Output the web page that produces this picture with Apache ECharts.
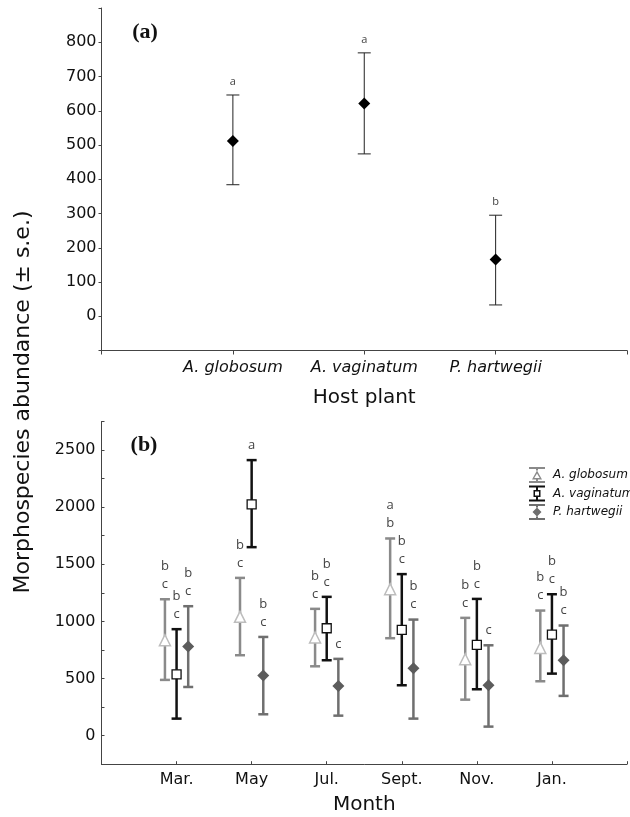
<!DOCTYPE html>
<html>
<head>
<meta charset="utf-8">
<script src="https://cdn.jsdelivr.net/npm/echarts@6/dist/echarts.min.js"></script>
<style>
  html, body { margin: 0; padding: 0; background: #fff; }
  #chart { width: 630px; height: 817px; }
</style>
</head>
<body>
<div id="chart"></div>
<script>
// panel (a): abundance by host plant
const hosts = ['A. globosum', 'A. vaginatum', 'P. hartwegii'];
const hostMean = [512, 621, 166];
const hostLow = [384, 474, 33];
const hostHigh = [646, 769, 295];
const hostLetters = ['a', 'a', 'b'];

// panel (b): abundance by month and host
const months = ['Mar.', 'May', 'Jul.', 'Sept.', 'Nov.', 'Jan.'];
const globosumMean = [835, 1040, 859, 1282, 669, 768];
const globosumLow = [488, 704, 607, 853, 315, 476];
const globosumHigh = [1194, 1381, 1110, 1726, 1031, 1095];
const globosumLetters = ['b\nc', 'b\nc', 'b\nc', 'a\nb', 'b\nc', 'b\nc'];
const vaginatumMean = [537, 2024, 940, 926, 794, 885];
const vaginatumLow = [149, 1650, 660, 441, 406, 543];
const vaginatumHigh = [932, 2412, 1215, 1414, 1197, 1238];
const vaginatumLetters = ['b\nc', 'a', 'b\nc', 'b\nc', 'b\nc', 'b\nc'];
const hartwegiiMean = [780, 526, 435, 590, 441, 660];
const hartwegiiLow = [426, 187, 175, 149, 79, 348];
const hartwegiiHigh = [1133, 864, 672, 1016, 791, 964];
const hartwegiiLetters = ['b\nc', 'b\nc', 'c', 'b\nc', 'c', 'b\nc'];

const SANS = 'DejaVu Sans';
const chart = echarts.init(document.getElementById('chart'));

// vertical bar + caps + significance letters above the top cap
function errorBars(letters, capHalf, lineWidth, color, fontSize, lineHeight) {
  return function (params, api) {
    const x = api.value(0);
    const lo = api.coord([x, api.value(1)]);
    const hi = api.coord([x, api.value(2)]);
    const st = { stroke: color, lineWidth: lineWidth };
    return {
      type: 'group',
      children: [
        { type: 'line', shape: { x1: lo[0], y1: lo[1], x2: hi[0], y2: hi[1] }, style: st },
        { type: 'line', shape: { x1: hi[0] - capHalf, y1: hi[1], x2: hi[0] + capHalf, y2: hi[1] }, style: st },
        { type: 'line', shape: { x1: lo[0] - capHalf, y1: lo[1], x2: lo[0] + capHalf, y2: lo[1] }, style: st },
        {
          type: 'text',
          style: {
            text: letters[params.dataIndex], x: hi[0], y: hi[1] - 6,
            align: 'center', verticalAlign: 'bottom',
            fontFamily: 'Open Sans', fontSize: fontSize, lineHeight: lineHeight, fill: '#444'
          }
        }
      ]
    };
  };
}

const offsets = [-0.155, 0, 0.155];
function monthPoints(vals, k) { return vals.map((v, i) => [i + 1 + offsets[k], v]); }
function monthBars(low, high, k) { return low.map((v, i) => [i + 1 + offsets[k], v, high[i]]); }

const capA = 'M0 0H16V2H0Z M0 14H16V16H0Z M7 2H9V3.5H7Z M7 12.5H9V14H7Z';
const capC = 'M0 0H16V2H0Z M0 14H16V16H0Z M7 2H9V4.5H7Z M7 11.5H9V14H7Z';
const iconGlobosum = 'path://' + capA + ' M8 3.5L13 12.5H3Z M8 6.6L5.3 11H10.7Z';
const iconVaginatum = 'path://' + capC + ' M4.5 4.5H11.5V11.5H4.5Z M6 6V10H10V6Z';
const iconHartwegii = 'path://' + capA + ' M8 3.5L12.5 8L8 12.5L3.5 8Z';

const axisLine = { onZero: false, lineStyle: { color: '#444', width: 1 } };
const tickFont = { fontFamily: SANS, fontSize: 16, color: '#111' };

chart.setOption({
  animation: false,
  backgroundColor: '#fff',
  grid: [
    { left: 101.5, right: 2, top: 8, height: 342.5 },
    { left: 101.5, right: 2, top: 421.5, height: 342.7 }
  ],
  xAxis: [
    {
      gridIndex: 0, type: 'value', min: 0, max: 4, interval: 1,
      axisLine: axisLine, splitLine: { show: false },
      axisTick: { inside: false, length: 4, lineStyle: { color: '#444' } },
      axisLabel: Object.assign({}, tickFont, {
        fontStyle: 'italic', margin: 9,
        formatter: v => hosts[v - 1] || ''
      }),
      name: 'Host plant', nameLocation: 'middle', nameGap: 37,
      nameTextStyle: { fontFamily: SANS, fontSize: 20, color: '#111' }
    },
    {
      gridIndex: 1, type: 'value', min: 0, max: 7, interval: 1,
      axisLine: axisLine, splitLine: { show: false },
      axisTick: { inside: true, length: 3, lineStyle: { color: '#444' } },
      axisLabel: Object.assign({}, tickFont, {
        margin: 8,
        formatter: v => months[v - 1] || ''
      }),
      name: 'Month', nameLocation: 'middle', nameGap: 31,
      nameTextStyle: { fontFamily: SANS, fontSize: 20, color: '#111' }
    }
  ],
  yAxis: [
    {
      gridIndex: 0, type: 'value', min: -100, max: 900, interval: 100,
      axisLine: Object.assign({ show: true }, axisLine), splitLine: { show: false },
      axisTick: { show: true, inside: false, length: 3, lineStyle: { color: '#444' } },
      axisLabel: Object.assign({}, tickFont, {
        margin: 5,
        formatter: v => (v >= 0 && v <= 800 ? String(v) : '')
      })
    },
    {
      gridIndex: 1, type: 'value', min: -250, max: 2750, interval: 250,
      axisLine: Object.assign({ show: true }, axisLine), splitLine: { show: false },
      axisTick: { show: true, inside: true, length: 3, lineStyle: { color: '#444' } },
      axisLabel: Object.assign({}, tickFont, {
        margin: 6,
        formatter: v => (v >= 0 && v <= 2500 && v % 500 === 0 ? String(v) : '')
      })
    }
  ],
  legend: {
    orient: 'vertical', left: 524, top: 462,
    itemWidth: 16, itemHeight: 16, itemGap: 2.5,
    selectedMode: false,
    textStyle: { fontFamily: SANS, fontStyle: 'italic', fontSize: 12, color: '#111', padding: [0, 0, 0, 3] },
    data: [
      { name: 'A. globosum', icon: iconGlobosum, itemStyle: { color: '#8a8a8a', borderWidth: 0 } },
      { name: 'A. vaginatum', icon: iconVaginatum, itemStyle: { color: '#111', borderWidth: 0 } },
      { name: 'P. hartwegii', icon: iconHartwegii, itemStyle: { color: '#6f6f6f', borderWidth: 0 } }
    ]
  },
  graphic: [
    {
      type: 'text', x: 23, y: 402, rotation: Math.PI / 2,
      style: {
        text: 'Morphospecies abundance (± s.e.)', align: 'center', verticalAlign: 'middle',
        fontFamily: SANS, fontSize: 22, fill: '#111'
      }
    },
    {
      type: 'text', x: 145, y: 32,
      style: { text: '(a)', align: 'center', verticalAlign: 'middle', fontFamily: 'Liberation Serif', fontWeight: 'bold', fontSize: 22, fill: '#111' }
    },
    {
      type: 'text', x: 144, y: 445,
      style: { text: '(b)', align: 'center', verticalAlign: 'middle', fontFamily: 'Liberation Serif', fontWeight: 'bold', fontSize: 22, fill: '#111' }
    }
  ],
  series: [
    // panel (a)
    {
      type: 'custom', xAxisIndex: 0, yAxisIndex: 0,
      renderItem: errorBars(hostLetters, 6.5, 1, '#222', 11, 14),
      data: hostLow.map((v, i) => [i + 1, v, hostHigh[i]])
    },
    {
      type: 'scatter', xAxisIndex: 0, yAxisIndex: 0, z: 3,
      symbol: 'diamond', symbolSize: 12,
      itemStyle: { color: '#000', opacity: 1 },
      data: hostMean.map((v, i) => [i + 1, v])
    },
    // panel (b)
    {
      type: 'custom', xAxisIndex: 1, yAxisIndex: 1,
      renderItem: errorBars(globosumLetters, 5, 2.5, '#8a8a8a', 13, 18),
      data: monthBars(globosumLow, globosumHigh, 0)
    },
    {
      type: 'custom', xAxisIndex: 1, yAxisIndex: 1,
      renderItem: errorBars(vaginatumLetters, 5, 2.5, '#111', 13, 18),
      data: monthBars(vaginatumLow, vaginatumHigh, 1)
    },
    {
      type: 'custom', xAxisIndex: 1, yAxisIndex: 1,
      renderItem: errorBars(hartwegiiLetters, 5, 2.5, '#6f6f6f', 13, 18),
      data: monthBars(hartwegiiLow, hartwegiiHigh, 2)
    },
    {
      name: 'A. globosum', type: 'scatter', xAxisIndex: 1, yAxisIndex: 1, z: 3,
      symbol: 'triangle', symbolSize: 11,
      itemStyle: { color: '#fff', borderColor: '#bdbdbd', borderWidth: 1.5, opacity: 1 },
      data: monthPoints(globosumMean, 0)
    },
    {
      name: 'A. vaginatum', type: 'scatter', xAxisIndex: 1, yAxisIndex: 1, z: 3,
      symbol: 'rect', symbolSize: 9,
      itemStyle: { color: '#fff', borderColor: '#111', borderWidth: 1.3, opacity: 1 },
      data: monthPoints(vaginatumMean, 1)
    },
    {
      name: 'P. hartwegii', type: 'scatter', xAxisIndex: 1, yAxisIndex: 1, z: 3,
      symbol: 'diamond', symbolSize: 12,
      itemStyle: { color: '#5c5c5c', opacity: 1 },
      data: monthPoints(hartwegiiMean, 2)
    }
  ]
});
</script>
</body>
</html>
